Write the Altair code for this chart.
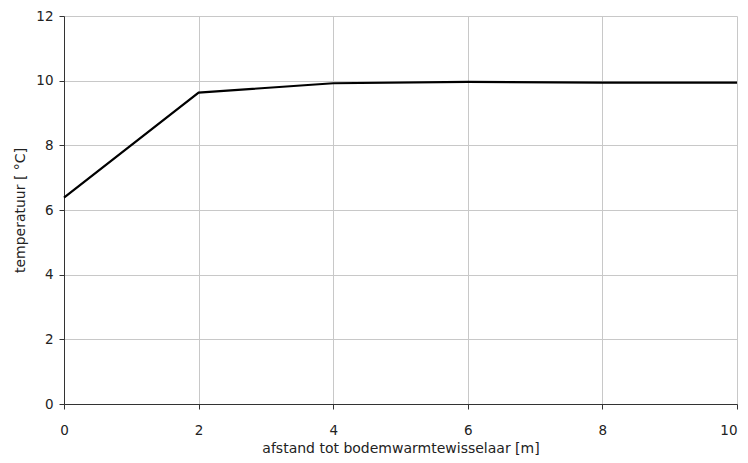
import altair as alt
import pandas as pd

afstand = [0, 2, 4, 6, 8, 10]
temperatuur = [6.38, 9.63, 9.92, 9.96, 9.94, 9.94]

df = pd.DataFrame({"afstand": afstand, "temperatuur": temperatuur})

font = "DejaVu Sans"

chart = alt.Chart(df).mark_line(color="black", strokeWidth=2.2).encode(
    x=alt.X("afstand:Q",
            scale=alt.Scale(domain=[0, 10], nice=False),
            axis=alt.Axis(title="afstand tot bodemwarmtewisselaar [m]", values=[0, 2, 4, 6, 8, 10],
                          format="d", labelPadding=14, titlePadding=5, labelFlush=False,
                          labelAlign=alt.expr("datum.value == 10 ? 'right' : 'center'"))),
    y=alt.Y("temperatuur:Q",
            scale=alt.Scale(domain=[0, 12], nice=False),
            axis=alt.Axis(title="temperatuur [ °C]", values=[0, 2, 4, 6, 8, 10, 12],
                          format="d", labelPadding=6, titlePadding=8, labelFlush=False)),
).properties(
    width=673,
    height=388,
    autosize=alt.AutoSizeParams(type="none"),
    padding={"left": 56, "top": 8, "right": 3, "bottom": 56},
).configure_axis(
    labelFont=font,
    titleFont=font,
    labelFontSize=13.5,
    titleFontSize=14,
    labelColor="#222",
    titleColor="#222",
    titleFontWeight="normal",
    gridColor="#c8c8c8",
    gridWidth=1,
    domainColor="#333",
    tickColor="#333",
    tickSize=5,
).configure_view(stroke=None)

chart.save("out.html", embed_options={"renderer": "svg", "actions": False})
